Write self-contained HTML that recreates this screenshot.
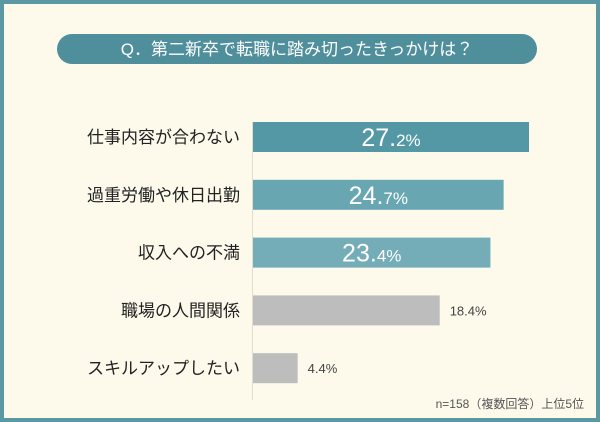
<!DOCTYPE html>
<html><head><meta charset="utf-8"><style>
body{margin:0;width:600px;height:422px;overflow:hidden;background:#5a98a3;font-family:"Liberation Sans","Noto Sans CJK JP",sans-serif}
#frame{position:absolute;left:4px;top:4px;width:592px;height:414px;background:#fdfaec}
</style></head><body>
<div id="frame"></div>
<svg id="chart" width="600" height="422" style="position:absolute;left:0;top:0">
<rect x="57" y="34" width="480" height="30" rx="15" fill="#4f8e9b"/>
<text x="297" y="55" text-anchor="middle" font-size="17" fill="#fff">Q．第二新卒で転職に踏み切ったきっかけは？</text>
<line x1="252.5" y1="122" x2="252.5" y2="400" stroke="#e2ddd0" stroke-width="1"/>
<text x="584" y="408" text-anchor="end" font-size="12" fill="#555">n=158（複数回答）上位5位</text>
</svg>
<script>
const categories=["仕事内容が合わない","過重労働や休日出勤","収入への不満","職場の人間関係","スキルアップしたい"];
const values=[27.2,24.7,23.4,18.4,4.4];
const highlighted=[true,true,true,false,false];
const svg=document.getElementById('chart');
const NS='http://www.w3.org/2000/svg';
const x0=253, scale=(529-253)/27.2;
const rowY=i=>137+i*57.8;
const colors=["#5498a6","#68a7b2","#74adb7","#bdbdbd","#bdbdbd"];
categories.forEach((c,i)=>{
  const cy=rowY(i), w=values[i]*scale;
  const r=document.createElementNS(NS,'rect');
  r.setAttribute('x',x0);r.setAttribute('y',cy-15);r.setAttribute('width',w);r.setAttribute('height',30);r.setAttribute('fill',colors[i]);
  
  
  svg.appendChild(r);
  const l=document.createElementNS(NS,'text');
  l.setAttribute('x',240);l.setAttribute('y',cy+6);l.setAttribute('text-anchor','end');l.setAttribute('font-size','17');l.setAttribute('fill','#222');
  l.textContent=c;
  
  
  svg.appendChild(l);
  const v=document.createElementNS(NS,'text');
  
  
  const s=values[i].toFixed(1).split('.');
  if(highlighted[i]){
    v.setAttribute('x',x0+w/2);v.setAttribute('y',cy+9);v.setAttribute('text-anchor','middle');v.setAttribute('fill','#fff');
    v.innerHTML='<tspan font-size="25">'+s[0]+'.</tspan><tspan font-size="17">'+s[1]+'%</tspan>';
  } else {
    v.setAttribute('x',x0+w+10);v.setAttribute('y',cy+5);v.setAttribute('font-size','13');v.setAttribute('fill','#444');
    v.textContent=values[i].toFixed(1)+'%';
  }
  svg.appendChild(v);
});
</script>
</body></html>
